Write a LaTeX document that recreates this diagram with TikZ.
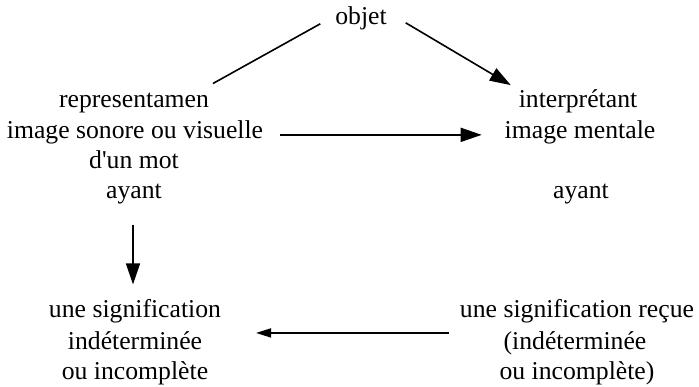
\documentclass[tikz,border=0pt]{standalone}
\usepackage{fontspec}
\setmainfont{Liberation Serif}
\usetikzlibrary{arrows.meta,calc}
\begin{document}
\begin{tikzpicture}[x=1pt,y=-1pt,
  txt/.style={anchor=base,inner sep=0pt,outer sep=0pt,font=\fontsize{25.7}{30.7}\selectfont},
  conn/.style={line width=1.6pt},
  arr/.style={conn,-{Triangle[length=21pt,width=14pt]}},
  arrs/.style={conn,-{Triangle[length=15pt,width=9pt]}}]
\useasboundingbox (0,0) rectangle (699,387);
% top
\node[txt] (objet) at (361,25) {objet};
% left block
\node[txt] (rep) at (134,108) {representamen};
\node[txt] (img) at (135,139) {image sonore ou visuelle};
\node[txt] (mot) at (134,169) {d\textquotesingle un mot};
\node[txt] (ay1) at (134,199) {ayant};
% right block
\node[txt] (int) at (578,108) {interprétant};
\node[txt] (ment) at (580,139) {image mentale};
\node[txt] (ay2) at (581,199) {ayant};
% bottom left
\node[txt] (sig) at (135,318) {une signification};
\node[txt] (ind) at (135,349) {indéterminée};
\node[txt] (inc) at (135,379) {ou incomplète};
% bottom right
\node[txt] (sigr) at (577,318) {une signification reçue};
\node[txt] (indr) at (575,349) {(indéterminée};
\node[txt] (incr) at (577,379) {ou incomplète)};
% connectors
\draw[conn] ($(objet.west)+(-15,5)$) -- ($(rep.north east)+(4,-10)$);
\draw[arr] ($(objet.east)+(19,4)$) -- ($(int.north west)+(-8,-5)$);
\draw[arr] ($(img.east)+(17,2)$) -- ($(ment.west)+(-23,2)$);
\draw[arr] ($(ay1.south)+(-1,20)$) -- ($(sig.north)+(-2,-15.5)$);
\draw[arrs] ($(sigr.south west)+(-11,9.4)$) -- ($(sig.south east)+(35,9.4)$);
\end{tikzpicture}
\end{document}
